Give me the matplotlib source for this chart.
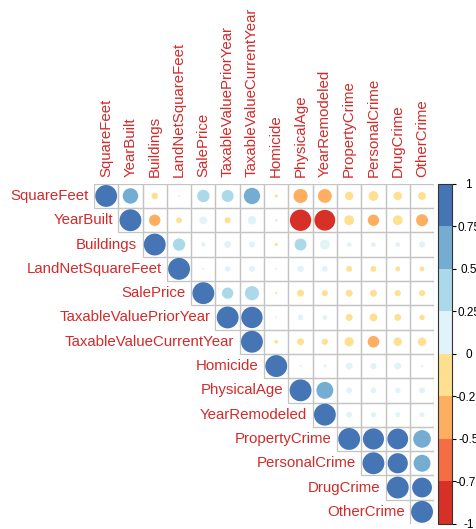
import numpy as np
import matplotlib
matplotlib.use("Agg")
import matplotlib.pyplot as plt
from matplotlib.colors import ListedColormap, BoundaryNorm
from matplotlib.patches import Circle, Rectangle
from matplotlib.colorbar import ColorbarBase

plt.rcParams["font.family"] = ["Liberation Sans", "DejaVu Sans"]

variables = ["SquareFeet", "YearBuilt", "Buildings", "LandNetSquareFeet",
             "SalePrice", "TaxableValuePriorYear", "TaxableValueCurrentYear",
             "Homicide", "PhysicalAge", "YearRemodeled", "PropertyCrime",
             "PersonalCrime", "DrugCrime", "OtherCrime"]

# upper-triangle values, each row starts at the diagonal
row_squarefeet = [1, 0.5, -0.09, 0.01, 0.32, 0.3, 0.56, -0.02, -0.42, -0.4,
                  -0.15, -0.2, -0.15, -0.13]
row_yearbuilt = [1, -0.27, -0.07, 0.12, -0.08, 0.15, 0.02, -0.95, -0.9,
                 -0.2, -0.27, -0.2, -0.3]
row_buildings = [1, 0.32, 0.04, 0.1, 0.08, -0.02, 0.3, 0.2, 0.05, 0.05,
                 0.05, 0.08]
row_landnet = [1, 0.01, 0.06, 0.07, 0.01, 0.08, 0.07, -0.07, -0.07, -0.05,
               -0.05]
row_saleprice = [1, 0.27, 0.42, -0.01, -0.1, -0.08, -0.1, -0.1, -0.08, -0.08]
row_taxprior = [1, 0.95, 0.01, 0.06, 0.05, -0.1, -0.13, -0.1, -0.06]
row_taxcurrent = [1, -0.03, -0.1, -0.08, -0.18, -0.28, -0.15, -0.15]
row_homicide = [1, 0.01, 0.02, 0.1, 0.08, 0.1, 0.01]
row_physicalage = [1, 0.6, 0.07, 0.07, 0.06, 0.07]
row_yearremodeled = [1, 0.07, 0.06, 0.05, 0.05]
row_propertycrime = [1, 0.93, 0.9, 0.65]
row_personalcrime = [1, 0.85, 0.6]
row_drugcrime = [1, 0.82]
row_othercrime = [1]

rows = [row_squarefeet, row_yearbuilt, row_buildings, row_landnet,
        row_saleprice, row_taxprior, row_taxcurrent, row_homicide,
        row_physicalage, row_yearremodeled, row_propertycrime,
        row_personalcrime, row_drugcrime, row_othercrime]

bin_edges = [-1, -0.75, -0.5, -0.25, 0, 0.25, 0.5, 0.75, 1]
bin_labels = ["-1", "-0.75", "-0.5", "-0.25", "0", "0.25", "0.5", "0.75", "1"]
palette = ["#D73027", "#F46D43", "#FDAE61", "#FEE090",
           "#E0F3F8", "#ABD9E9", "#74ADD1", "#4575B4"]

n = len(variables)
corr = np.full((n, n), np.nan)
for i, vals in enumerate(rows):
    corr[i, i:] = vals

cmap = ListedColormap(palette)
norm = BoundaryNorm(bin_edges, cmap.N)
label_col = "#d42a2a"

fig = plt.figure(figsize=(4.77, 5.29), dpi=100)
W, H = 477, 529
gx0, gy1, cell = 94, 524, 24.3
ax = fig.add_axes([gx0 / W, (H - gy1) / H, n * cell / W, n * cell / H])
ax.set_xlim(-0.5, n - 0.5)
ax.set_ylim(n - 0.5, -0.5)
ax.axis("off")

for i in range(n):
    for j in range(i, n):
        r = corr[i, j]
        ax.add_patch(Rectangle((j - 0.5, i - 0.5), 1, 1, fill=False,
                               ec="#c4c4c4", lw=0.9))
        ax.add_patch(Circle((j, i), 0.45 * np.sqrt(abs(r)),
                            fc=cmap(norm(r)), ec="none"))

for i, name in enumerate(variables):
    ax.text(i - 0.72, i, name, ha="right", va="center", fontsize=10.8,
            color=label_col, clip_on=False)
    ax.text(i, -0.78, name, ha="center", va="bottom", rotation=90,
            fontsize=10.8, color=label_col, clip_on=False)

# colour legend
cax = fig.add_axes([438 / W, (H - gy1) / H, 14 / W, n * cell / H])
cb = ColorbarBase(cax, cmap=cmap, norm=norm, boundaries=bin_edges,
                  ticks=bin_edges, orientation="vertical")
cb.outline.set_edgecolor("#333333")
cb.outline.set_linewidth(0.8)
cax.set_yticklabels(bin_labels)
cax.tick_params(axis="y", length=3, width=0.8, pad=9, labelsize=8.5)
for t in cax.get_yticklabels():
    t.set_horizontalalignment("center")

fig.savefig("out.png", dpi=100)
